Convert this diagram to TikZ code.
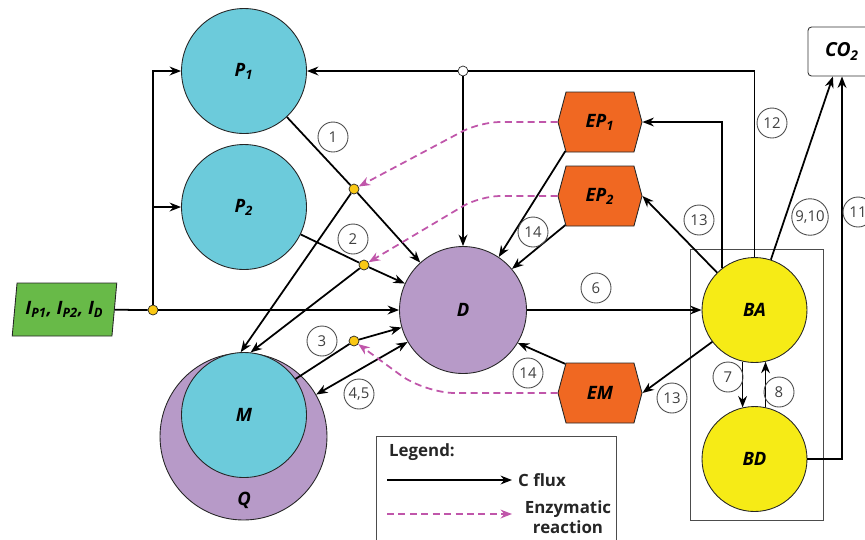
\documentclass[tikz,border=0pt]{standalone}
\usepackage{fontspec}
\setmainfont{Open Sans}
\usetikzlibrary{arrows.meta,shapes.geometric,shapes.symbols}
\definecolor{poolblue}{RGB}{108,203,219}
\definecolor{poolpurple}{RGB}{183,154,200}
\definecolor{bugyellow}{RGB}{246,235,22}
\definecolor{enzorange}{RGB}{240,104,34}
\definecolor{inputgreen}{RGB}{104,186,72}
\definecolor{dotyellow}{RGB}{250,200,20}
\definecolor{enzpink}{RGB}{192,86,170}
\begin{document}
\begin{tikzpicture}[x=0.02cm,y=-0.02cm,
    flux/.style={-{Stealth[length=6.5pt,width=5pt]},line width=1pt},
    enz/.style={-{Stealth[length=6.5pt,width=5pt]},line width=1pt,draw=enzpink,dash pattern=on 4pt off 2.5pt},
    pool/.style={circle,draw=black!85,line width=0.5pt,inner sep=0pt,minimum size=#1,font=\fontsize{10.5}{12}\selectfont\bfseries\itshape},
    enzyme/.style={signal,signal to=east and west,signal pointer angle=150,draw=black!85,fill=enzorange,line width=0.5pt,minimum width=1.68cm,minimum height=1.2cm,inner sep=0pt,font=\fontsize{10.5}{12}\selectfont\bfseries\itshape},
    jdot/.style={circle,draw=black!85,fill=dotyellow,line width=0.4pt,minimum size=0.2cm,inner sep=0pt},
    num/.style={circle,draw=black!70,line width=0.5pt,minimum size=0.6cm,inner sep=1pt,text=black!75,font=\fontsize{8.5}{9}\selectfont},
    legtext/.style={font=\fontsize{9.6}{11.4}\selectfont\bfseries,text=black!85}]
  \useasboundingbox (0,0) rectangle (865,539);

  \node[pool=2.5cm,fill=poolblue] (P1) at (244,71) {P\textsubscript{1}};
  \node[pool=2.5cm,fill=poolblue] (P2) at (244,207) {P\textsubscript{2}};
  \node[pool=3.34cm,fill=poolpurple] (Q) at (243.5,436.5) {};
  \node[pool=2.5cm,fill=poolblue] (M) at (244,415) {M};
  \node[font=\fontsize{10.5}{12}\selectfont\bfseries\itshape] (Qlabel) at (244,500) {Q};
  \node[pool=2.54cm,fill=poolpurple] (D) at (463,310) {D};
  \node[pool=2.1cm,fill=bugyellow] (BA) at (754.5,310) {BA};
  \node[pool=2.1cm,fill=bugyellow] (BD) at (754.5,459) {BD};
  \node[enzyme] (EP1) at (600,122) {EP\textsubscript{1}};
  \node[enzyme] (EP2) at (600,196) {EP\textsubscript{2}};
  \node[enzyme] (EM) at (600,393) {EM};
  \node[trapezium,trapezium left angle=76,trapezium right angle=104,trapezium stretches=true,
        draw=black!85,fill=inputgreen,line width=0.5pt,minimum width=2.1cm,minimum height=1.06cm,inner sep=0pt,
        font=\fontsize{10.5}{12}\selectfont\bfseries\itshape] (in) at (64.5,309.5) {I\textsubscript{P1}, I\textsubscript{P2}, I\textsubscript{D}};
  \node[draw=black!80,line width=0.5pt,rounded corners=2pt,minimum width=1.36cm,minimum height=0.98cm,
        font=\fontsize{11}{12}\selectfont\bfseries\itshape] (CO2) at (842,51.5) {CO\textsubscript{2}};

  \node[jdot] (j0) at (153,310) {};
  \node[jdot] (j1) at (354,189) {};
  \node[jdot] (j2) at (364,265) {};
  \node[jdot] (j3) at (354,341) {};
  \node[jdot,fill=white] (jw) at (463,71) {};

  \draw[black!70,line width=0.5pt] (690,249) rectangle (823,520);

  \draw[line width=1pt] (in) -- (j0);
  \draw[flux] (j0) -- (D);
  \draw[flux] (j0) |- (P1);
  \draw[flux] (j0) |- (P2);
  \draw[line width=1pt] (BA.north) |- (jw);
  \draw[flux] (jw) -- (P1);
  \draw[flux] (jw) -- (D);
  \draw[line width=1pt] (P1) -- (j1);
  \draw[flux] (j1) -- (D);
  \draw[flux] (j1) -- (M.93);
  \draw[line width=1pt] (P2) -- (j2);
  \draw[flux] (j2) -- (D);
  \draw[flux] (j2) -- (M.84);
  \draw[line width=1pt] (M.35) -- (j3);
  \draw[flux] (j3) -- (D);
  \draw[line width=1pt,{Stealth[length=6.5pt,width=5pt]}-{Stealth[length=6.5pt,width=5pt]}] (Q.30) -- (D.210);
  \draw[flux] (EP1.220) -- (D.56);
  \draw[flux] (EP2.220) -- (D.40);
  \draw[flux] (EM.140) -- (D.329);
  \draw[flux] (D) -- (BA);
  \draw[flux] (BA.135) -- (EP2.east);
  \draw[flux] (BA.128) |- (EP1.east);
  \draw[flux] (BA.217) -- (EM.east);
  \draw[flux] (BA.257) -- (BD.103);
  \draw[flux] (BD.78) -- (BA.282);
  \draw[flux] (BA.72) -- (CO2.250);
  \draw[flux] (BD.east) -| (CO2.south);

  \draw[enz,rounded corners=0.4cm] (EP1.west) -- (480,122) -- (j1);
  \draw[enz,rounded corners=0.4cm] (EP2.west) -- (480,196) -- (j2);
  \draw[enz,rounded corners=0.6cm] (EM.west) -- (425,393) -- (j3);

  \node[num] (n1) at (333,137) {1};
  \node[num] (n2) at (353,239) {2};
  \node[num] (n3) at (322,341) {3};
  \node[num] (n45) at (359,394) {4,5};
  \node[num] (n6) at (596,288) {6};
  \node[num] (n7) at (728,377) {7};
  \node[num] (n8) at (779,392) {8};
  \node[num] (n9) at (810,217) {9,10};
  \node[num] (n11) at (858,212) {11};
  \node[num] (n12) at (772,123) {12};
  \node[num] (n13a) at (699,220) {13};
  \node[num] (n13b) at (672,398) {13};
  \node[num] (n14a) at (533,232) {14};
  \node[num] (n14b) at (528,373) {14};

  \draw[black!70,line width=0.5pt] (376,436) rectangle (616,560);
  \node[legtext,anchor=west] (legtitle) at (383,452) {Legend:};
  \coordinate (fluxa) at (387,480);
  \coordinate (fluxb) at (512,480);
  \draw[flux] (fluxa) -- (fluxb);
  \node[legtext,anchor=west] (fluxtext) at (512,480) {C flux};
  \coordinate (enza) at (387,514);
  \coordinate (enzb) at (512,514);
  \draw[enz] (enza) -- (enzb);
  \node[legtext,align=center] (enztext) at (568,517) {Enzymatic\\reaction};
\end{tikzpicture}
\end{document}
